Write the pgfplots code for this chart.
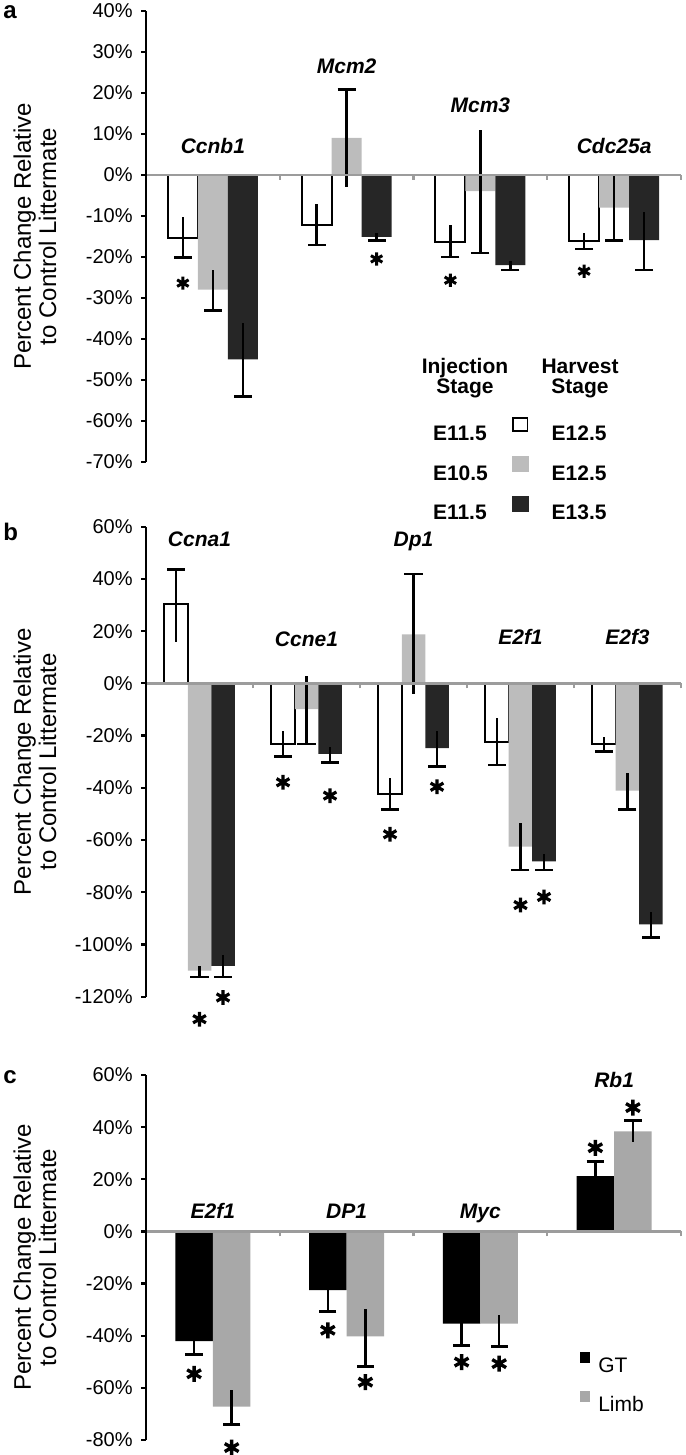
\documentclass[border=0pt]{standalone}
\usepackage{fontspec}
\setmainfont{Liberation Sans}
\usepackage{pgfplots}
\pgfplotsset{compat=1.18}
\usepackage{pgfplotstable}

\definecolor{gA}{HTML}{BCBCBC}
\definecolor{dA}{HTML}{262626}
\definecolor{gC}{HTML}{A8A8A8}
\definecolor{axgray}{HTML}{9C9C9C}

% ---------- panel a ----------
\pgfplotstableread{
x v ep em
0 -15.4 5.0 4.8
1 -12.2 5.1 4.9
2 -16.3 4.1 3.7
3 -16.1 1.9 2.0
}\aW
\pgfplotstableread{
x v ep em
0 -28.0 4.8 5.0
1 9.0 11.8 12.0
2 -4.0 14.9 15.1
3 -8.0 8.0 8.0
}\aG
\pgfplotstableread{
x v ep em
0 -45.0 9.0 9.0
1 -15.1 0.9 0.9
2 -22.0 0.9 1.2
3 -15.9 6.9 7.3
}\aD
% ---------- panel b ----------
\pgfplotstableread{
x v ep em
0 30.3 13.4 14.3
1 -23.2 4.9 4.8
2 -42.4 6.0 6.0
3 -22.5 9.3 8.7
4 -23.2 2.8 2.8
}\bW
\pgfplotstableread{
x v ep em
0 -110.0 1.8 2.4
1 -9.9 12.7 13.3
2 18.8 23.1 22.8
3 -62.5 9.1 8.9
4 -41.1 6.8 7.3
}\bG
\pgfplotstableread{
x v ep em
0 -108.2 4.2 4.2
1 -27.0 2.5 3.2
2 -24.8 6.5 7.1
3 -68.2 2.8 3.2
4 -92.3 4.7 5.1
}\bD
% ---------- panel c ----------
\pgfplotstableread{
x v ep em
0 -42.1 5.0 5.0
1 -22.5 8.1 8.1
2 -35.4 8.4 8.4
3 21.2 5.6 5.6
}\cGT
\pgfplotstableread{
x v ep em
0 -67.2 6.2 6.9
1 -40.2 10.4 11.6
2 -35.4 3.4 8.7
3 38.4 4.2 4.1
}\cLi

\newcommand{\ebw}{1.3pt}
% #1 table, #2 bar width, #3 bar shift, #4 bar style, #5 cap half width
\newcommand{\barseries}[5]{%
\addplot[ybar, bar width=#2, bar shift=#3, #4, forget plot,
  error bars/.cd, y dir=both, y explicit, error mark=none,
  error bar style={draw=black, solid, line width=\ebw, xshift=#3}]
  table[x=x, y=v, y error plus=ep, y error minus=em] {#1};
\addplot[ybar, bar width=#2, bar shift=#3, draw=none, fill=none, forget plot,
  restrict y to domain=-1000:0,
  error bars/.cd, y dir=minus, y explicit, error mark=|,
  error bar style={draw=black, solid, line width=\ebw, xshift=#3},
  error mark options={draw=black, solid, line width=\ebw, mark size=#5}]
  table[x=x, y=v, y error plus=ep, y error minus=em] {#1};
\addplot[ybar, bar width=#2, bar shift=#3, draw=none, fill=none, forget plot,
  restrict y to domain=0:1000,
  error bars/.cd, y dir=plus, y explicit, error mark=|,
  error bar style={draw=black, solid, line width=\ebw, xshift=#3},
  error mark options={draw=black, solid, line width=\ebw, mark size=#5}]
  table[x=x, y=v, y error plus=ep, y error minus=em] {#1};
}

\pgfplotsset{
  panel/.style={
    anchor=north west, scale only axis, width=267.5pt,
    axis on top, clip=false,
    axis y line*=left, axis x line*=middle,
    tick align=outside, major tick length=2.5pt,
    y axis line style={black, line width=1.2pt},
    x axis line style={axgray, line width=1.3pt},
    ytick style={black, line width=1.1pt},
    xtick style={axgray, line width=1.1pt},
    xticklabels={},
    yticklabel={\pgfmathprintnumber[assume math mode=true]{\tick}\%},
    yticklabel style={font=\fontsize{10}{12}\selectfont, inner sep=0pt, xshift=-4pt},
    ylabel={Percent Change Relative\\to Control Littermate},
    ylabel style={font=\fontsize{12}{12.6}\selectfont, align=center,
      at={(axis description cs:-0.2075,0.5)}, anchor=center},
  },
  star/.style={forget plot, only marks, mark=asterisk, black},
}
\tikzset{gene/.style={font=\bfseries\itshape\fontsize{10.5}{12}\selectfont, anchor=base, inner sep=0pt}}

\begin{document}
\begin{tikzpicture}

% ===================== panel a =====================
\begin{axis}[panel, at={(73pt,-5.35pt)}, height=225.65pt,
  xmin=-0.5, xmax=3.5, ymin=-70, ymax=40,
  ytick={-70,-60,...,40}, xtick={0.5,1.5,2.5,3.5},
  legend columns=2, legend cell align=left,
  legend style={draw=none, fill=none, inner sep=0pt, outer sep=0pt,
    at={(axis description cs:0.4935,0.0997)}, anchor=north west,
    font=\bfseries\fontsize{10.5}{12}\selectfont, row sep=7.8pt,
    nodes={inner sep=0pt, text height=7.6pt, text depth=0pt},
    /tikz/every odd column/.append style={column sep=11.5pt},
    /tikz/every even column/.append style={column sep=12pt}},
]
\barseries{\aW}{15pt}{-15pt}{fill=white, draw=black, line width=1.1pt}{4.5pt}
\barseries{\aG}{15pt}{0pt}{fill=gA, draw=none}{4.5pt}
\barseries{\aD}{15pt}{15pt}{fill=dA, draw=none}{4.5pt}

\addplot[star, mark size=3.3pt, mark options={line width=1.5pt, xshift=-15pt}]
  coordinates {(0,-26.4) (2,-25.7) (3,-23.5)};
\addplot[star, mark size=3.3pt, mark options={line width=1.5pt, xshift=15pt}]
  coordinates {(1,-20.5)};

\node[gene] at (axis cs:0,5.3) {Ccnb1};
\node[gene] at (axis cs:1,24.6) {Mcm2};
\node[gene] at (axis cs:2,15.3) {Mcm3};
\node[gene] at (axis cs:3,5.3) {Cdc25a};

\node[align=center, anchor=north, inner sep=0pt, font=\bfseries\fontsize{10.5}{10}\selectfont]
  at (axis cs:1.885,-44.72) {Injection\\Stage};
\node[align=center, anchor=north, inner sep=0pt, font=\bfseries\fontsize{10.5}{10}\selectfont]
  at (axis cs:2.745,-44.72) {Harvest\\Stage};

\addlegendimage{empty legend}\addlegendentry{E11.5}
\addlegendimage{legend image code/.code={\draw[draw=black, fill=white, line width=0.9pt] (0.45pt,0.95pt) rectangle (7.55pt,7.55pt);}}\addlegendentry{E12.5}
\addlegendimage{empty legend}\addlegendentry{E10.5}
\addlegendimage{legend image code/.code={\fill[gA] (0pt,0.5pt) rectangle (8pt,8pt);}}\addlegendentry{E12.5}
\addlegendimage{empty legend}\addlegendentry{E11.5}
\addlegendimage{legend image code/.code={\fill[dA] (0pt,0.5pt) rectangle (8pt,8pt);}}\addlegendentry{E13.5}
\end{axis}

% ===================== panel b =====================
\begin{axis}[panel, at={(73pt,-263.35pt)}, height=235pt,
  xmin=-0.5, xmax=4.5, ymin=-120, ymax=60,
  ytick={-120,-100,...,60}, xtick={0.5,1.5,2.5,3.5,4.5},
]
\barseries{\bW}{11.75pt}{-11.75pt}{fill=white, draw=black, line width=1.1pt}{4.5pt}
\barseries{\bG}{11.75pt}{0pt}{fill=gA, draw=none}{4.5pt}
\barseries{\bD}{11.75pt}{11.75pt}{fill=dA, draw=none}{4.5pt}

\addplot[star, mark size=3.7pt, mark options={line width=1.6pt, xshift=-11.75pt}]
  coordinates {(1,-37.9) (2,-57.8)};
\addplot[star, mark size=3.7pt, mark options={line width=1.6pt}]
  coordinates {(0,-128.6) (3,-84.9)};
\addplot[star, mark size=3.7pt, mark options={line width=1.6pt, xshift=11.75pt}]
  coordinates {(0,-120.3) (1,-43.0) (2,-39.6) (3,-81.8)};

\node[gene] at (axis cs:0,52.4) {Ccna1};
\node[gene] at (axis cs:1,14.2) {Ccne1};
\node[gene] at (axis cs:2,52.4) {Dp1};
\node[gene] at (axis cs:3,15.0) {E2f1};
\node[gene] at (axis cs:4,15.0) {E2f3};
\end{axis}

% ===================== panel c =====================
\begin{axis}[panel, at={(73pt,-537.5pt)}, height=182.5pt,
  xmin=-0.5, xmax=3.5, ymin=-80, ymax=60,
  ytick={-80,-60,...,60}, xtick={0.5,1.5,2.5,3.5},
  legend cell align=left,
  legend style={draw=none, fill=none, inner sep=0pt, outer sep=0pt,
    at={(axis description cs:0.811,0.2419)}, anchor=north west,
    font=\fontsize{10.5}{12}\selectfont, row sep=9.2pt,
    nodes={inner sep=0pt, text height=7.6pt, text depth=0pt},
    /tikz/every odd column/.append style={column sep=4pt}},
]
\barseries{\cGT}{18.8pt}{-9.4pt}{fill=black, draw=none}{4.3pt}
\barseries{\cLi}{18.8pt}{9.4pt}{fill=gC, draw=none}{4.3pt}

\addplot[star, mark size=4pt, mark options={line width=1.7pt, xshift=-9.4pt}]
  coordinates {(0,-54.6) (1,-37.9) (2,-50.1) (3,32.1)};
\addplot[star, mark size=4pt, mark options={line width=1.7pt, xshift=9.4pt}]
  coordinates {(0,-82.9) (1,-57.8) (2,-50.7) (3,47.5)};

\node[gene] at (axis cs:0,5.1) {E2f1};
\node[gene] at (axis cs:1,5.1) {DP1};
\node[gene] at (axis cs:2,5.1) {Myc};
\node[gene] at (axis cs:3,55.2) {Rb1};

\addlegendimage{legend image code/.code={\fill[black] (0pt,1.3pt) rectangle (4.8pt,6.3pt);}}\addlegendentry{GT}
\addlegendimage{legend image code/.code={\fill[gC] (0pt,1.3pt) rectangle (4.8pt,6.3pt);}}\addlegendentry{Limb}
\end{axis}

% panel letters
\node[anchor=base west, inner sep=0pt, font=\bfseries\fontsize{12}{12}\selectfont] at (1.5pt,-9.5pt) {a};
\node[anchor=base west, inner sep=0pt, font=\bfseries\fontsize{12}{12}\selectfont] at (1.5pt,-270pt) {b};
\node[anchor=base west, inner sep=0pt, font=\bfseries\fontsize{12}{12}\selectfont] at (1.5pt,-541.5pt) {c};

\pgfresetboundingbox
\useasboundingbox (0,0) rectangle (342.5pt,-727.5pt);
\end{tikzpicture}
\end{document}
